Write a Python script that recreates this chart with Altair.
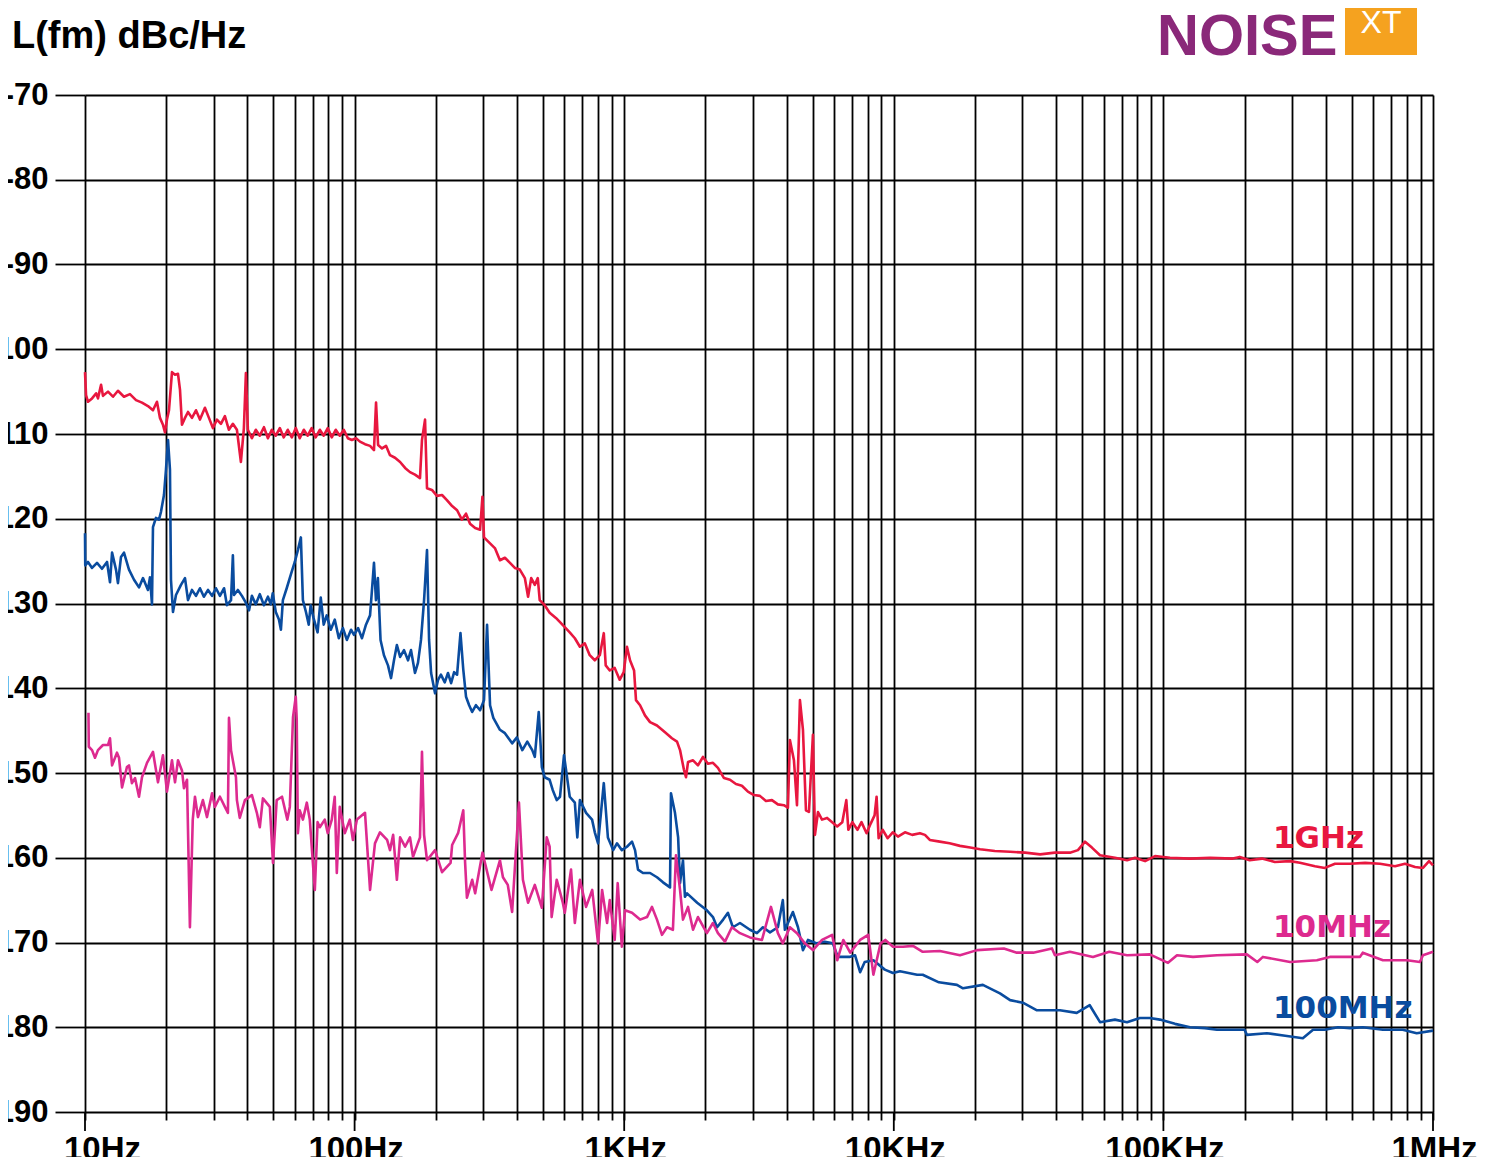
import altair as alt
import pandas as pd

# ---------------- data ----------------
red_f = [10, 10.09, 10.26, 10.62, 11.0, 11.17, 11.47, 11.66, 12.17, 12.7, 13.25, 13.95, 14.68, 15.46, 16.27, 17.12, 17.87, 18.49, 18.97, 19.46,
         19.8, 20.14, 20.49, 21.02, 21.57, 22.13, 22.51, 22.89, 23.49, 24.1, 24.93, 25.8, 26.69, 27.85, 28.82, 29.82, 30.86, 31.93, 33.03, 34.18,
         35.36, 36.6, 37.87, 38.85, 39.52, 40.2, 41.6, 43.0, 44.5, 46.1, 47.7, 49.3, 51.0, 52.8, 54.6, 56.5, 58.5, 60.5, 62.6, 64.8,
         67.0, 69.3, 71.7, 74.3, 76.8, 79.5, 82.3, 85.1, 88.1, 91.2, 94.4, 97.7,
         101.2, 104.7, 109.3, 114.1, 118, 120.1, 122.2, 126.4, 130.8, 135.3, 141.2, 147.5, 153.9, 160.5, 167.5, 174.8, 177.8, 182.5, 185.6, 193.6,
         202, 211, 220, 230, 240, 250, 259, 268, 280, 292, 298, 302, 318, 332, 346, 361, 377, 393, 410, 428,
         440, 452, 466, 478, 486, 507, 529, 558, 578, 602, 628, 656, 685, 714, 745, 778, 812, 840, 854, 884, 922, 962, 996,
         1024, 1051, 1088, 1106, 1145, 1194, 1247, 1323, 1417, 1503, 1570, 1611, 1665, 1695, 1725, 1800, 1878, 1960, 2045, 2134,
         2227, 2345, 2468, 2597, 2733, 2877, 3028, 3187, 3355, 3531, 3716, 3911, 4048, 4118, 4262, 4374, 4486, 4603, 4722, 4845,
         5012, 5100, 5234, 5417, 5657, 5907, 6168, 6440, 6666, 6782, 7020, 7331, 7588, 7925, 8200, 8486, 8634, 8784, 9088, 9490, 9910,
         10360, 11000, 11700, 12500, 13050, 13600, 14800, 16100, 17600, 19200, 20900, 23700, 27000, 30700, 34900, 39600, 45000, 48200,
         51200, 54300, 58200, 66100, 73300, 78500, 85500, 93100,
         105800, 125500, 149000, 181000, 192000, 209000, 232000, 259000, 295000, 321000, 365000, 397000, 433000, 492000, 560000,
         636000, 723000, 787000, 858000, 918000, 967000, 1000000]
red_db = [-102.7, -105.4, -106.2, -105.8, -105.2, -105.8, -104.2, -105.5, -105.0, -105.6, -104.9, -105.6, -105.3, -106.0, -106.3, -106.7, -107.2, -106.2, -108.1, -108.9,
          -109.8, -108.3, -107.2, -102.7, -103.0, -102.9, -104.8, -108.9, -108.1, -107.4, -108.1, -107.2, -108.3, -106.9, -108.1, -109.3, -108.3, -108.8, -107.9, -109.5,
          -108.8, -109.5, -113.3, -109.3, -102.8, -109.5, -110.5, -109.5, -110.2, -109.2, -110.5, -109.5, -110.2, -109.3, -110.4, -109.5, -110.4, -109.3, -110.5, -109.5,
          -110.2, -109.3, -110.4, -109.5, -110.2, -109.3, -110.4, -109.5, -110.2, -109.5, -110.5, -110.7,
          -110.5, -110.9, -111.2, -111.4, -111.9, -106.3, -111.3, -111.7, -111.4, -112.5, -112.8, -113.3, -114.0, -114.5, -114.8, -115.2, -110.7, -108.3, -116.4, -116.6,
          -117.3, -117.2, -117.8, -118.5, -119.0, -120.1, -119.4, -120.6, -121.1, -121.3, -117.4, -122.2, -122.9, -123.5, -124.9, -124.6, -125.2, -125.8, -126.0, -127.0,
          -129.2, -127.0, -127.8, -127.0, -129.6, -130.2, -131.1, -131.7, -132.2, -132.8, -133.4, -134.1, -135.1, -134.7, -136.1, -136.7, -136.1, -133.5, -137.3, -137.9, -137.6, -139.0, -138.1,
          -135.1, -136.7, -137.9, -141.4, -142.0, -143.2, -144.0, -144.4, -145.2, -145.9, -146.3, -147.3, -149.6, -150.5, -148.7, -148.5, -149.1, -148.1, -148.9, -148.8,
          -149.4, -150.6, -150.8, -151.3, -151.5, -152.2, -152.6, -152.7, -153.3, -153.2, -153.7, -153.8, -154.1, -146.1, -148.5, -153.8, -141.4, -144.9, -154.4, -154.6,
          -145.5, -157.3, -154.6, -155.5, -155.3, -155.8, -156.3, -155.8, -153.2, -156.7, -155.8, -156.7, -155.8, -157.1, -156.0, -155.0, -152.8, -157.7, -156.7, -157.7, -157.0,
          -157.5, -157.0, -157.3, -157.1, -157.3, -157.9, -158.1, -158.3, -158.6, -158.8, -159.0, -159.2, -159.3, -159.4, -159.6, -159.4, -159.4, -159.1,
          -158.1, -158.8, -159.7, -160.0, -160.3, -160.0, -160.4, -159.8,
          -160.0, -160.1, -160.0, -160.1, -159.9, -160.3, -160.1, -160.5, -160.4, -160.6, -161.0, -161.2, -160.7, -160.7, -160.6,
          -160.7, -161.0, -160.7, -161.1, -161.2, -160.4, -160.9]

blue_f = [10, 10.02, 10.26, 10.62, 11.08, 11.56, 12.07, 12.38, 12.6, 13.03, 13.25, 13.6, 13.95, 14.56, 15.2, 15.86, 16.41, 17.12, 17.42, 17.72,
          17.87, 18.33, 18.81, 19.13, 19.63, 19.97, 20.32, 20.66, 20.84, 21.2, 21.75, 22.7, 23.49, 24.1, 24.93, 25.8, 26.69, 27.6, 28.6, 29.6,
          30.6, 31.66, 32.8, 33.6, 34.8, 35.36, 35.7, 36.9, 38.2, 39.5, 40.6, 41.6, 43.0, 44.5, 46.1, 47.7, 48.9, 49.7, 51.0, 52.4,
          53.3, 54.2, 56.0, 58.0, 60.0, 61.6, 63.2, 64.3, 66.0, 67.6, 68.7, 70.4, 72.9, 74.9, 76.8, 78.8, 81.6, 84.4, 87.4, 90.5, 93.6, 97.0,
          99.5, 103, 106.5, 110.2, 114.1, 116, 118, 120, 122, 124.8, 128.5, 133, 136.5, 140, 143.5, 147.5, 152.5, 157.8, 161.9, 167.5,
          171.8, 176.3, 181, 185.6, 188.9, 192.2, 198.8, 204, 209, 216, 222, 228, 234, 240, 247, 253, 259, 266, 273, 282,
          292, 302, 310, 318, 327, 346, 361, 384, 400, 419, 437, 456, 466, 482, 495, 507, 529, 543, 562, 578,
          598, 628, 656, 670, 685, 722, 760, 778, 800, 840, 870, 910, 940, 980,
          1024, 1069, 1097, 1125, 1174, 1247, 1323, 1393, 1479, 1491, 1543, 1585, 1611, 1652, 1680, 1710, 1865, 2026, 2134, 2211,
          2328, 2426, 2530, 2688, 2927, 3107, 3270, 3473, 3716, 3876, 3945, 4223, 4412, 4603, 4804, 5184, 5550, 5940, 6200, 6845,
          7180, 7500, 7800, 8400, 9260,
          9930, 10540, 12200, 12800, 14700, 17150, 18060, 21400, 24760, 27000, 30100, 33960, 41300, 47700, 53300, 58200, 66100, 73300, 81800, 89000, 97000,
          110400, 125500, 142700, 158000, 181000, 200000, 204000, 242000, 283000, 329000, 359000, 397000, 444000, 492000, 549000, 652000, 772000, 870000, 1000000]
blue_db = [-121.7, -125.5, -125.1, -125.8, -125.2, -125.9, -125.1, -127.5, -124.0, -126.0, -127.6, -124.5, -124.0, -126.0, -127.2, -128.1, -127.0, -128.4, -126.9, -130.1,
           -121.0, -119.9, -120.1, -119.2, -117.2, -114.2, -110.7, -114.2, -127.2, -131.0, -129.0, -127.8, -127.0, -129.6, -128.4, -129.1, -128.2, -129.2, -128.4, -129.1,
           -128.2, -129.1, -128.2, -130.2, -129.6, -124.3, -129.0, -128.4, -129.1, -129.9, -130.8, -129.1, -130.1, -128.9, -130.2, -129.2, -130.1, -128.8, -131.0, -131.9,
           -133.1, -129.6, -128.2, -126.6, -125.1, -123.7, -122.2, -129.6, -131.0, -132.5, -130.2, -131.7, -133.4, -129.3, -132.5, -131.4, -133.1, -131.9, -134.1, -132.9, -134.3, -133.1,
           -133.7, -132.9, -134.1, -132.5, -131.4, -128.4, -125.2, -129.6, -127.0, -134.3, -136.1, -137.3, -138.8, -136.7, -134.9, -136.3, -135.5, -136.7, -135.5, -138.2,
           -137.0, -134.3, -129.6, -123.7, -134.3, -138.2, -140.6, -139.0, -138.4, -139.3, -138.2, -139.4, -138.1, -138.4, -133.5, -137.8, -141.0, -142.0, -142.8, -142.0,
           -142.6, -141.4, -132.5, -142.0, -143.5, -144.9, -145.3, -146.5, -145.8, -147.3, -146.3, -147.3, -148.1, -142.8, -149.3, -150.5, -150.8, -152.0, -153.2, -152.8,
           -147.9, -152.8, -153.5, -157.6, -153.2, -154.7, -155.5, -157.0, -158.3, -151.2, -157.6, -159.1, -158.3, -159.1,
           -158.7, -158.1, -159.1, -161.4, -161.8, -161.8, -162.3, -162.9, -163.5, -152.4, -154.7, -157.6, -163.0, -160.3, -164.6, -164.2, -165.3, -166.2, -167.0, -168.2,
           -167.3, -166.5, -168.2, -167.7, -168.5, -168.9, -168.2, -168.8, -168.2, -165.0, -168.5, -166.4, -168.2, -170.9, -169.7, -170.1, -169.9, -170.1, -171.7, -171.7,
           -171.5, -173.5, -172.3, -172.1, -173.2,
           -173.6, -173.4, -173.8, -173.8, -174.7, -175.0, -175.4, -175.0, -176.0, -176.8, -177.1, -178.0, -178.0, -178.3, -177.4, -179.4, -179.1, -179.4, -178.9, -178.9, -179.1,
           -179.6, -180.0, -180.1, -180.3, -180.3, -180.3, -180.9, -180.7, -181.0, -181.3, -180.3, -180.3, -180.0, -180.1, -180.0, -180.3, -180.3, -180.7, -180.4]

mag_f = [10.3, 10.33, 10.62, 10.89, 11.17, 11.66, 12.17, 12.38, 12.6, 13.14, 13.37, 13.72, 14.31, 14.56, 14.93, 15.33, 15.86, 16.27, 16.98, 17.87,
         18.65, 19.46, 20.14, 21.02, 21.57, 22.13, 22.89, 23.29, 23.9, 24.5, 25.1, 25.58, 26.24, 27.37, 28.35, 29.6, 30.33, 31.66, 33.03, 33.9,
         34.2, 34.8, 36.3, 36.6, 37.5, 39.2, 41.6, 43.4, 44.5, 45.7, 48.5, 49.8, 51.4, 53.8, 56.3, 57.5, 59.1, 60.5, 61.0, 61.6,
         62.6, 64.3, 66.5, 68.2, 71.2, 72.9, 74.3, 77.5, 79.5, 82.3, 84.4, 85.9, 88.1, 92.0, 96.0, 98.6,
         102, 109.3, 114.1, 119, 124.2, 132, 135.3, 139, 143.5, 147.5, 153.9, 160.5, 164.7, 174.8, 177.8, 181, 185.6, 198.8, 211, 227,
         230, 242, 253, 257, 261, 273, 280, 298, 322, 346, 355, 370, 384, 407, 421, 440, 466, 495, 516, 529,
         538, 562, 592, 602, 635, 656, 685, 722, 761, 800, 828, 864, 884, 922, 946, 980,
         1007, 1069, 1145, 1215, 1268, 1323, 1381, 1441, 1516, 1556, 1611, 1652, 1725, 1800, 1878, 2026, 2134, 2227, 2365, 2508,
         2688, 2927, 3243, 3502, 3716, 3876, 4118, 4374, 4680, 5012, 5417, 5907, 6168, 6496, 6890, 7500, 8040, 8400, 8930, 9300,
         9930, 10820, 11780, 12800, 14820, 17600, 20370, 25600, 28600, 32900, 38600, 39600, 45000, 54800, 63000, 73300, 89000,
         104000, 112300, 128800, 158000, 204000, 223000, 234000, 295000, 371000, 414000, 536000, 549000, 652000, 801000, 894000, 918000, 1000000]
mag_db = [-142.9, -146.9, -147.3, -148.2, -147.3, -146.7, -146.7, -145.9, -149.1, -147.6, -148.2, -151.7, -149.3, -149.1, -151.2, -150.6, -152.8, -150.5, -148.8, -147.5,
          -151.1, -147.9, -152.2, -148.5, -151.1, -148.5, -149.7, -151.8, -150.8, -168.2, -155.5, -152.8, -155.2, -153.2, -155.2, -152.4, -154.0, -152.8, -154.0, -154.7,
          -143.5, -147.3, -150.5, -153.2, -155.3, -153.2, -152.6, -154.7, -156.4, -153.0, -154.0, -160.6, -153.2, -152.8, -155.5, -154.0, -143.4, -141.0, -143.7, -157.1,
          -154.4, -155.5, -153.5, -155.5, -163.8, -155.8, -156.4, -155.5, -157.1, -155.5, -152.8, -161.8, -154.0, -157.1, -155.5, -157.9,
          -155.5, -154.7, -163.8, -158.3, -157.0, -157.9, -159.1, -157.3, -162.6, -157.6, -158.7, -157.6, -159.9, -157.6, -147.5, -157.3, -160.3, -159.1, -161.7, -160.6,
          -158.5, -157.1, -154.4, -160.6, -164.7, -162.6, -164.2, -159.4, -163.8, -160.3, -162.3, -163.2, -166.4, -153.5, -162.6, -165.3, -163.2, -165.9, -157.6, -158.7,
          -167.0, -162.6, -165.3, -166.5, -161.4, -167.7, -162.6, -165.8, -163.8, -170.1, -163.8, -167.7, -165.0, -169.7, -163.0, -170.5,
          -166.2, -166.5, -167.3, -167.0, -165.8, -167.3, -169.1, -168.2, -168.5, -159.7, -163.8, -167.3, -165.8, -168.5, -167.0, -168.9, -167.7, -168.9, -169.9, -168.2,
          -168.9, -169.4, -169.7, -165.8, -168.9, -170.1, -168.2, -168.9, -170.1, -170.9, -169.7, -169.1, -172.1, -169.7, -171.2, -169.7, -169.1, -173.8, -170.1, -169.7,
          -170.5, -170.5, -170.4, -171.1, -171.0, -171.5, -170.9, -170.7, -171.2, -171.2, -170.7, -171.5, -171.1, -171.7, -171.1, -171.5, -171.4,
          -172.4, -171.5, -171.7, -171.5, -171.4, -172.3, -171.7, -172.3, -172.1, -171.7, -171.7, -171.2, -172.1, -172.1, -172.3, -171.5, -171.1]

series_names = ["1GHz", "10MHz", "100MHz"]
series_colors = ["#E8173F", "#DD2A8F", "#0A4C9F"]

decade_values = [10, 100, 1000, 10000, 100000, 1000000]
decade_labels = ["10Hz", "100Hz", "1KHz", "10KHz", "100KHz", "1MHz"]
y_values = [-70, -80, -90, -100, -110, -120, -130, -140, -150, -160, -170, -180, -190]

assert len(red_f) == len(red_db), (len(red_f), len(red_db))
assert len(blue_f) == len(blue_db), (len(blue_f), len(blue_db))
assert len(mag_f) == len(mag_db), (len(mag_f), len(mag_db))

# ---------------- build frames ----------------
def frame(fs, dbs, name):
    return pd.DataFrame({"f": fs, "db": dbs, "series": name, "i": range(len(fs))})

frames = {
    "1GHz": frame(red_f, red_db, "1GHz"),
    "10MHz": frame(mag_f, mag_db, "10MHz"),
    "100MHz": frame(blue_f, blue_db, "100MHz"),
}

grid_values = [m * 10 ** k for k in range(1, 6) for m in range(1, 10)] + [1000000]
label_expr = " : ".join(
    f"datum.value == {v} ? '{t}'" for v, t in zip(decade_values, decade_labels)
) + " : ''"

W, H = 1348, 1017
LABEL_FONT = "Liberation Sans, Arial, Helvetica, sans-serif"

x_scale = alt.Scale(type="log", domain=[10, 1000000], nice=False)
x_axis = alt.Axis(
    values=grid_values, grid=True, gridColor="black", gridWidth=1.8, gridOpacity=1,
    domain=False, ticks=True, tickSize=8, tickColor="black", tickWidth=1.8,
    labelExpr=label_expr, labelFont=LABEL_FONT, labelFontSize=33, labelFontWeight="bold",
    labelColor="black", labelPadding=13, labelOverlap=False, labelBound=False,
    labelFlush=False, title=None,
    labelOffset={"condition": {"test": "datum.value == 10", "value": 17}, "value": 1},
)
x_enc = alt.X("f:Q", scale=x_scale, axis=x_axis)
y_enc = alt.Y(
    "db:Q",
    scale=alt.Scale(domain=[-190, -70], nice=False, zero=False),
    axis=alt.Axis(
        values=y_values, grid=True, gridColor="black", gridWidth=1.8, gridOpacity=1,
        domain=False, ticks=True, tickSize=30, tickColor="black", tickWidth=1.8,
        labelExpr="toString(datum.value)", labelFont=LABEL_FONT, labelFontSize=31,
        labelFontWeight="bold", labelColor="black", labelPadding=7, title=None,
    ),
)

layers = []
for name, color in zip(["100MHz", "10MHz", "1GHz"], ["#0A4C9F", "#DD2A8F", "#E8173F"]):
    layers.append(
        alt.Chart(frames[name]).mark_line(color=color, strokeWidth=2.6, strokeJoin="round").encode(
            x=x_enc, y=y_enc, order="i:Q"
        )
    )

# longer ticks below the axis at each decade
major = alt.Chart(pd.DataFrame({"f": decade_values})).mark_rule(color="black", strokeWidth=1.8).encode(
    x=x_enc, y=alt.value(H), y2=alt.value(H + 19),
)
layers.append(major)

one = pd.DataFrame({"a": [0]})

def txt(text, x, y, **kw):
    return alt.Chart(one).mark_text(text=text, **kw).encode(x=alt.value(x), y=alt.value(y))

# series labels
label_pos = {"1GHz": 753, "10MHz": 842, "100MHz": 923}
for name, color in zip(series_names, series_colors):
    layers.append(txt(name, 1188, label_pos[name], align="left", baseline="alphabetic",
                      font="DejaVu Sans, sans-serif", fontWeight="bold", fontSize=31, color=color))

# axis title
layers.append(txt("L(fm) dBc/Hz", -73, -47, align="left", baseline="alphabetic",
                  font=LABEL_FONT, fontWeight="bold", fontSize=38, color="black"))

# logo
layers.append(
    alt.Chart(one).mark_rect(color="#F5A21F").encode(
        x=alt.value(1260), x2=alt.value(1332), y=alt.value(-120), y2=alt.value(-40)
    )
)
layers.append(txt("XT", 1296, -62, align="center", baseline="alphabetic",
                  font=LABEL_FONT, fontSize=32, color="white"))
layers.append(txt("NOISE", 1072, -40, align="left", baseline="alphabetic",
                  font=LABEL_FONT, fontWeight="bold", fontSize=58, color="#8A2879"))

chart = alt.layer(*layers).properties(
    width=W, height=H,
    padding={"left": 77, "top": 87, "right": 44, "bottom": 45},
    autosize=alt.AutoSizeParams(type="none"),
    background="white",
).configure_view(stroke=None)

chart.save("out.html", embed_options={"renderer": "svg", "actions": False})
